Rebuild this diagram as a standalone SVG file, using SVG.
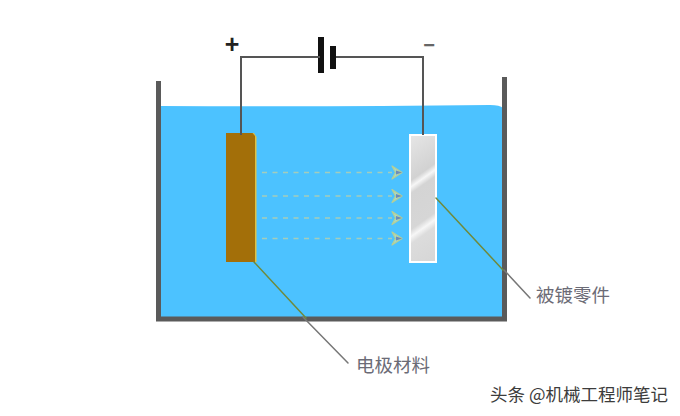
<svg xmlns="http://www.w3.org/2000/svg" width="680" height="416" viewBox="0 0 680 416">
<style>
text{font-family:"Noto Sans CJK SC","Liberation Sans",sans-serif}
.lab{font-size:18.500px;fill:#6b6b76}
.plus{font-family:"Liberation Sans",sans-serif;font-size:25px;fill:#222;font-weight:bold}
.minus{font-family:"Liberation Sans",sans-serif;font-size:20px;fill:#666;font-weight:bold}
.wire{fill:none;stroke:#555;stroke-width:2}
.lead{fill:none;stroke-width:1.500;stroke-linecap:round}
.dash{stroke:#a4cdbb;stroke-width:1.500;stroke-dasharray:5 5.500}
.head{fill:#a9d8c8;stroke:#b6cf95;stroke-width:1.200;stroke-linejoin:round}
.tip{fill:#6d8bb8}
</style>
<defs>
<linearGradient id="steel" gradientUnits="userSpaceOnUse" x1="410" y1="135" x2="478" y2="231">
<stop offset="0" stop-color="#e6e6e6"/><stop offset=".32" stop-color="#d2d2d2"/><stop offset=".365" stop-color="#f6f6f6"/><stop offset=".41" stop-color="#d4d4d4"/><stop offset=".66" stop-color="#d6d6d6"/><stop offset=".71" stop-color="#f6f6f6"/><stop offset=".76" stop-color="#dcdcdc"/><stop offset="1" stop-color="#d6d6d6"/>
</linearGradient>
<g id="arrow"><path class="head" d="M-6-6.500 4 0-6 6.500-2.500 0Z"/><path class="tip" d="M-2-2 4 0-2 2Z"/></g>
</defs>
<g id="tank">
<path d="M160 106Q330 107 490 105Q500 105 503 108V317H160Z" fill="#4cc2ff"/>
<path d="M158.500 81V319H504.500V77" fill="none" stroke="#5a5a5a" stroke-width="5"/>
</g>
<g id="electrode">
<path d="M226.500 133H254L256.500 137V262H226.500Z" fill="#e0c040"/>
<path d="M226 133H252.500L255 136V262H226Z" fill="#a36f09"/>
</g>
<g id="part">
<rect x="410" y="135" width="26" height="127" fill="url(#steel)" stroke="#fff" stroke-width="2"/>
</g>
<g id="battery">
<rect x="318" y="37" width="6" height="36" fill="#111"/>
<rect x="330" y="46" width="6" height="23" fill="#111"/>
</g>
<g id="connectors">
<path class="wire" d="M241 135V57H320M336 57H423V135"/>
<path class="lead" stroke="#777" d="M303 317 348 363"/>
<path class="lead" stroke="#6f8a3c" d="M254 262 306 318"/>
<path class="lead" stroke="#777" d="M504 270 530 298"/>
<path class="lead" stroke="#6f8a3c" d="M436 198 503 270"/>
<path class="dash" d="M262 172.500H392"/>
<path class="dash" d="M262 196H392"/>
<path class="dash" d="M262 218H392"/>
<path class="dash" d="M262 238.500H392"/>
<use href="#arrow" x="398" y="172.500"/>
<use href="#arrow" x="398" y="196"/>
<use href="#arrow" x="398" y="218"/>
<use href="#arrow" x="398" y="238.500"/>
</g>
<g id="labels">
<text class="plus" x="232" y="53" text-anchor="middle">+</text>
<text class="minus" x="429" y="52" text-anchor="middle">−</text>
<text class="lab" x="356" y="372">电极材料</text>
<text class="lab" x="536" y="302">被镀零件</text>
<text x="490" y="401" font-size="17.500" fill="#3c3c3c">头条 @机械工程师笔记</text>
</g>
</svg>
